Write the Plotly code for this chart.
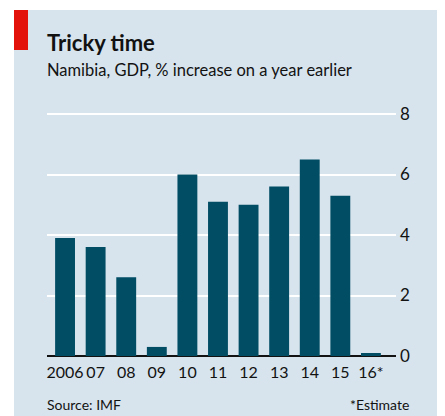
import plotly.graph_objects as go

# Data
years = ["2006", "07", "08", "09", "10", "11", "12", "13", "14", "15", "16*"]
gdp_growth = [3.9, 3.6, 2.6, 0.3, 6.0, 5.1, 5.0, 5.6, 6.5, 5.3, 0.1]
y_ticks = [0, 2, 4, 6, 8]

# The page body has an 8px margin, so the figure is drawn 8px in and down
OFF = 8
W, H = 445 - OFF, 416 - OFF
# plot area in figure pixels
L, R, T, B = 39, 49, 103, 60
PW, PH = W - L - R, H - T - B

BAR = "#004d64"
PANEL = "#d7e4ed"
RED = "#e3120b"
INK = "#121212"
FONT = "Lato"


def px(x):
    # page pixel x -> paper x
    return (x - OFF - L) / PW


def py(y):
    # page pixel y -> paper y
    return (H - B - (y - OFF)) / PH


fig = go.Figure()

fig.add_trace(go.Bar(
    x=years,
    y=gdp_growth,
    marker=dict(color=BAR, line=dict(width=0)),
    width=0.65,
    hovertemplate='%{x}: %{y:.1f}%<extra></extra>'
))

# Panel background and red tag
fig.add_shape(type="rect", xref="paper", yref="paper",
              x0=px(14), x1=px(450), y0=py(420), y1=py(10),
              fillcolor=PANEL, line=dict(width=0), layer="below")
fig.add_shape(type="rect", xref="paper", yref="paper",
              x0=px(14), x1=px(28), y0=py(50), y1=py(10),
              fillcolor=RED, line=dict(width=0), layer="below")

# Titles and footnotes
fig.add_annotation(text="<b>Tricky time</b>", xref="paper", yref="paper",
                   x=px(45), y=py(27), xanchor="left", yanchor="top",
                   showarrow=False, font=dict(family=FONT, size=22, color=INK))
fig.add_annotation(text="Namibia, GDP, % increase on a year earlier",
                   xref="paper", yref="paper",
                   x=px(45), y=py(58), xanchor="left", yanchor="top",
                   showarrow=False, font=dict(family=FONT, size=16.5, color=INK))
fig.add_annotation(text="Source: IMF", xref="paper", yref="paper",
                   x=px(45), y=py(394), xanchor="left", yanchor="top",
                   showarrow=False, font=dict(family=FONT, size=14, color=INK))
fig.add_annotation(text="*Estimate", xref="paper", yref="paper",
                   x=px(411), y=py(394), xanchor="right", yanchor="top",
                   showarrow=False, font=dict(family=FONT, size=14, color=INK))

fig.update_layout(
    width=W,
    height=H,
    margin=dict(l=L, r=R, t=T, b=B, pad=0),
    paper_bgcolor="white",
    plot_bgcolor="rgba(0,0,0,0)",
    showlegend=False,
    font=dict(family=FONT, size=16, color=INK),
    xaxis=dict(
        type="category",
        range=[-0.59, 10.82],
        showgrid=False,
        showline=False,
        ticks="",
        tickangle=0,
        ticklabelstandoff=5,
        tickfont=dict(size=16, color=INK),
        fixedrange=True
    ),
    yaxis=dict(
        side="right",
        range=[0, 8.1],
        tickvals=y_ticks,
        showgrid=True,
        gridcolor="white",
        gridwidth=2,
        zeroline=True,
        zerolinecolor=INK,
        zerolinewidth=2,
        showline=False,
        ticks="",
        ticklabelstandoff=3,
        tickfont=dict(size=17, color=INK),
        fixedrange=True
    )
)

fig.write_html("out.html")
